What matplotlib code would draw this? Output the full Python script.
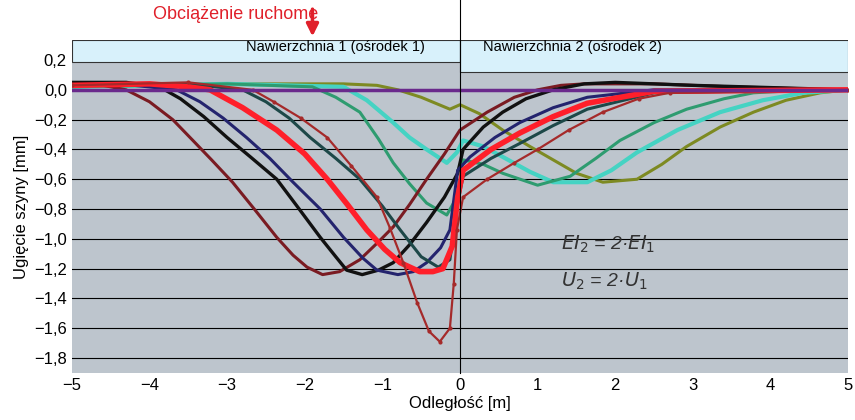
import numpy as np
import matplotlib.pyplot as plt
from matplotlib.patches import Rectangle

plt.rcParams["font.family"] = ["Liberation Sans", "DejaVu Sans"]

# curve samples: (x [m], deflection [mm])
maroon_x = [-5, -4.6, -4.3, -4.0, -3.7, -3.44, -3.2, -2.93, -2.65, -2.36, -2.15, -1.97, -1.77, -1.55, -1.29, -1.05, -0.86, -0.65, -0.43, -0.2, 0.0, 0.35, 0.7, 1.0, 1.3, 1.6, 2.5, 3.5, 5]
maroon_y = [0.04, 0.03, 0.0, -0.08, -0.2, -0.34, -0.47, -0.62, -0.8, -0.99, -1.11, -1.19, -1.24, -1.22, -1.14, -1.02, -0.92, -0.77, -0.6, -0.43, -0.27, -0.15, -0.05, 0.0, 0.03, 0.04, 0.04, 0.02, 0.0]
black_x = [-5, -4.3, -3.87, -3.6, -3.3, -3.0, -2.7, -2.36, -2.1, -1.8, -1.6, -1.46, -1.26, -1.05, -0.86, -0.65, -0.43, -0.2, -0.03, 0.04, 0.3, 0.55, 0.85, 1.2, 1.6, 2.0, 3.0, 5]
black_y = [0.05, 0.05, 0.02, -0.06, -0.18, -0.32, -0.45, -0.6, -0.78, -0.99, -1.12, -1.21, -1.24, -1.21, -1.16, -1.04, -0.89, -0.72, -0.56, -0.4, -0.25, -0.15, -0.06, 0.0, 0.04, 0.05, 0.03, 0.0]
navy_x = [-5, -4.2, -3.65, -3.35, -3.05, -2.75, -2.45, -2.15, -1.8, -1.5, -1.25, -1.07, -0.8, -0.6, -0.43, -0.25, -0.13, -0.03, 0.13, 0.45, 0.77, 1.2, 1.64, 2.5, 5]
navy_y = [0.03, 0.03, 0.0, -0.08, -0.19, -0.32, -0.46, -0.62, -0.8, -0.99, -1.13, -1.21, -1.24, -1.22, -1.16, -1.06, -0.94, -0.54, -0.45, -0.32, -0.22, -0.12, -0.05, 0.0, 0.0]
red_x = [-5, -4.0, -3.5, -3.22, -2.8, -2.36, -2.0, -1.71, -1.45, -1.2, -0.97, -0.77, -0.52, -0.35, -0.22, -0.1, -0.03, 0.04, 0.4, 0.77, 1.2, 1.64, 2.5, 5]
red_y = [0.03, 0.04, 0.02, 0.0, -0.12, -0.27, -0.43, -0.6, -0.77, -0.94, -1.07, -1.16, -1.22, -1.22, -1.2, -1.05, -0.72, -0.54, -0.4, -0.29, -0.18, -0.09, -0.01, 0.0]
teal_x = [-5, -3.5, -2.8, -2.5, -2.2, -1.93, -1.6, -1.29, -1.0, -0.77, -0.5, -0.28, -0.13, -0.03, 0.04, 0.4, 0.77, 1.2, 1.64, 2.5, 5]
teal_y = [0.03, 0.04, 0.0, -0.08, -0.19, -0.32, -0.46, -0.6, -0.78, -0.94, -1.12, -1.19, -1.14, -0.76, -0.58, -0.46, -0.36, -0.24, -0.13, -0.02, 0.0]
brown_x = [-5, -3.5, -2.67, -2.4, -2.05, -1.71, -1.4, -1.07, -0.9, -0.73, -0.55, -0.4, -0.26, -0.13, -0.08, -0.04, 0.04, 0.35, 0.7, 1.0, 1.4, 1.84, 2.3, 2.7, 5]
brown_y = [0.03, 0.05, 0.0, -0.08, -0.19, -0.32, -0.51, -0.72, -0.93, -1.16, -1.43, -1.62, -1.69, -1.6, -1.3, -0.94, -0.72, -0.6, -0.49, -0.4, -0.27, -0.15, -0.06, -0.02, 0.0]
green_x = [-5, -3.0, -1.9, -1.6, -1.29, -1.05, -0.86, -0.65, -0.43, -0.17, -0.04, 0.04, 0.3, 0.55, 1.0, 1.42, 1.75, 2.06, 2.5, 2.92, 3.4, 3.78, 4.5, 5]
green_y = [0.02, 0.04, 0.02, -0.05, -0.15, -0.33, -0.49, -0.63, -0.76, -0.84, -0.72, -0.47, -0.5, -0.56, -0.64, -0.58, -0.46, -0.34, -0.22, -0.13, -0.06, -0.02, 0.0, 0.0]
turq_x = [-5, -3.0, -1.5, -1.2, -0.86, -0.65, -0.43, -0.17, -0.04, 0.04, 0.3, 0.55, 0.9, 1.2, 1.64, 1.95, 2.28, 2.8, 3.35, 3.9, 4.42, 5]
turq_y = [0.02, 0.04, 0.02, -0.07, -0.22, -0.32, -0.4, -0.49, -0.42, -0.34, -0.38, -0.45, -0.55, -0.62, -0.62, -0.54, -0.42, -0.27, -0.15, -0.07, -0.02, 0.0]
olive_x = [-5, -3.0, -1.5, -1.07, -0.8, -0.5, -0.13, 0.0, 0.25, 0.55, 0.9, 1.2, 1.5, 1.84, 2.28, 2.6, 2.92, 3.35, 3.78, 4.2, 4.64, 5]
olive_y = [0.02, 0.04, 0.04, 0.03, 0.0, -0.05, -0.13, -0.1, -0.16, -0.27, -0.38, -0.47, -0.56, -0.62, -0.6, -0.5, -0.38, -0.25, -0.15, -0.07, -0.02, 0.0]
purple_x = [-5, 5]
purple_y = [0.0, 0.0]

yticks = [0.2, 0.0, -0.2, -0.4, -0.6, -0.8, -1.0, -1.2, -1.4, -1.6, -1.8]
xticks = [-5, -4, -3, -2, -1, 0, 1, 2, 3, 4, 5]

fig = plt.figure(figsize=(8.55, 4.2), dpi=100)
ax = fig.add_axes([0.084, 0.112, 0.908, 0.793])
ax.set_facecolor("#bdc5cd")
ax.set_xlim(-5, 5)
ax.set_ylim(-1.9, 0.335)

for y in yticks:
    ax.axhline(y, color="black", lw=0.8, zorder=1)

ax.add_patch(Rectangle((-5, 0.19), 5, 0.145, facecolor="#d8f1fb", edgecolor="#333333", lw=0.8, zorder=2))
ax.add_patch(Rectangle((0, 0.12), 5, 0.215, facecolor="#d8f1fb", edgecolor="#333333", lw=0.8, zorder=2))
ax.text(-1.6, 0.29, "Nawierzchnia 1 (ośrodek 1)", ha="center", va="center", fontsize=10.5, zorder=3)
ax.text(0.3, 0.29, "Nawierzchnia 2 (ośrodek 2)", ha="left", va="center", fontsize=10.5, zorder=3)

series = [
    (olive_x, olive_y, "#7d8a22", 2.2, None),
    (turq_x, turq_y, "#45d3c3", 3.0, None),
    (green_x, green_y, "#2e9c70", 2.2, None),
    (maroon_x, maroon_y, "#7a1b22", 2.2, None),
    (black_x, black_y, "#111111", 2.4, None),
    (navy_x, navy_y, "#24246e", 2.2, None),
    (teal_x, teal_y, "#1d4848", 2.2, None),
    (red_x, red_y, "#ff1f2a", 4.0, None),
    (brown_x, brown_y, "#a52a2a", 1.6, "."),
    (purple_x, purple_y, "#6a2a8c", 2.5, None),
]
for xs, ys, c, lw, mk in series:
    ax.plot(xs, ys, color=c, lw=lw, marker=mk, ms=4, zorder=4)

ax.axvline(0, color="black", lw=0.8, ymax=1.15, clip_on=False, zorder=5)

ax.set_xticks(xticks)
ax.set_xticklabels([str(t).replace("-", "−") for t in xticks])
ax.set_yticks(yticks)
ax.set_yticklabels([("%.1f" % t).replace(".", ",").replace("-", "−") for t in yticks])
ax.tick_params(labelsize=12, length=0)
ax.set_xlabel("Odległość [m]", fontsize=12, labelpad=2)
ax.set_ylabel("Ugięcie szyny [mm]", fontsize=12)
for s in ax.spines.values():
    s.set_visible(False)

ax.text(1.3, -1.07, "$EI_2$ = 2·$EI_1$", fontsize=14, style="italic", color="#333333")
ax.text(1.3, -1.32, "$U_2$ = 2·$U_1$", fontsize=14, style="italic", color="#333333")

fig.text(0.275, 0.965, "Obciążenie ruchome", color="#e0202a", fontsize=13, ha="center", va="center")
ax.annotate("", xy=(-1.9, 0.34), xytext=(-1.9, 0.56), xycoords="data",
            arrowprops=dict(arrowstyle="-|>", color="#e0202a", lw=2.5, mutation_scale=18),
            annotation_clip=False)

fig.savefig("out.png", dpi=100)
